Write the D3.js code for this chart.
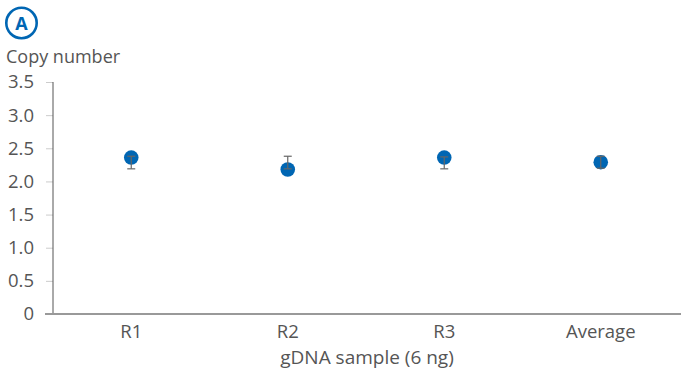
<!DOCTYPE html>
<html>
<head>
<meta charset="utf-8">
<script src="https://cdn.jsdelivr.net/npm/d3@7"></script>
<style>
  body { margin: 0; background: #fff; }
  text { font-family: "Open Sans", "Lato", sans-serif; fill: #555; }
</style>
</head>
<body>
<div id="chart"></div>
<script>
// data
var samples = ["R1", "R2", "R3", "Average"];
var copyNumber = [2.36, 2.18, 2.36, 2.29];
var errLow = [2.19, 2.19, 2.19, 2.20];
var errHigh = [2.38, 2.38, 2.37, 2.38];
var yTicks = [0, 0.5, 1.0, 1.5, 2.0, 2.5, 3.0, 3.5];

var W = 686, H = 375;
var margin = {top: 82, right: 5, bottom: 61, left: 53};
var width = W - margin.left - margin.right,
    height = H - margin.top - margin.bottom;

var svg = d3.select("#chart").append("svg")
    .attr("width", W)
    .attr("height", H);

var g = svg.append("g")
    .attr("transform", "translate(" + margin.left + "," + margin.top + ")");

// Scales
var x = d3.scaleBand().domain(samples).range([0, width - 2]);
var y = d3.scaleLinear().domain([0, 3.5]).range([height, 0]);

// Y axis
var yAxis = d3.axisLeft(y)
    .tickValues(yTicks)
    .tickSize(7)
    .tickPadding(12)
    .tickFormat(function(d) { return d === 0 ? "0" : d3.format(".1f")(d); });

var ya = g.append("g").attr("class", "y-axis").call(yAxis);
ya.select(".domain").remove();
ya.selectAll(".tick line").attr("stroke", "#ccc");
ya.selectAll(".tick text").style("font-size", "18.5px").attr("fill", "#555");

g.append("line")
    .attr("x1", 0).attr("x2", 0)
    .attr("y1", y(3.5)).attr("y2", y(0))
    .attr("stroke", "#555").attr("stroke-width", 1);

// X axis
g.append("line")
    .attr("x1", -8).attr("x2", width)
    .attr("y1", y(0)).attr("y2", y(0))
    .attr("stroke", "#999").attr("stroke-width", 2);

var xAxis = d3.axisBottom(x).tickSize(0).tickPadding(11);
var xa = g.append("g").attr("transform", "translate(0," + height + ")").call(xAxis);
xa.select(".domain").remove();
xa.selectAll(".tick text").style("font-size", "18.5px").attr("fill", "#555");

// Axis titles
svg.append("text")
    .attr("x", 6).attr("y", 63)
    .style("font-size", "18px")
    .text("Copy number");

svg.append("text")
    .attr("x", margin.left + width / 2).attr("y", 364)
    .attr("text-anchor", "middle")
    .style("font-size", "19px")
    .text("gDNA sample (6 ng)");

// Panel badge
svg.append("circle")
    .attr("cx", 21.5).attr("cy", 23).attr("r", 15.2)
    .attr("fill", "none").attr("stroke", "#0066b3").attr("stroke-width", 2.6);
svg.append("text")
    .attr("x", 21.5).attr("y", 29.5)
    .attr("text-anchor", "middle")
    .style("font-size", "18px").style("font-weight", "bold")
    .style("fill", "#0066b3")
    .text("A");

// Points
var data = samples.map(function(s, i) {
  return {s: s, v: copyNumber[i], lo: errLow[i], hi: errHigh[i]};
});

var cx = function(d) { return x(d.s) + x.bandwidth() / 2; };

g.selectAll(".dot").data(data).enter().append("circle")
    .attr("class", "dot")
    .attr("cx", cx)
    .attr("cy", function(d) { return y(d.v); })
    .attr("r", 7.3)
    .attr("fill", "#0066b3");

// Error bars (drawn over the dots)
var eb = g.selectAll(".err").data(data).enter().append("g")
    .attr("stroke", "#666").attr("stroke-width", 1.2);
eb.append("line")
    .attr("x1", cx).attr("x2", cx)
    .attr("y1", function(d) { return y(d.hi); })
    .attr("y2", function(d) { return y(d.lo); });
eb.append("line")
    .attr("x1", function(d) { return cx(d) - 4; })
    .attr("x2", function(d) { return cx(d) + 4; })
    .attr("y1", function(d) { return y(d.hi); })
    .attr("y2", function(d) { return y(d.hi); });
eb.append("line")
    .attr("x1", function(d) { return cx(d) - 4; })
    .attr("x2", function(d) { return cx(d) + 4; })
    .attr("y1", function(d) { return y(d.lo); })
    .attr("y2", function(d) { return y(d.lo); });
</script>
</body>
</html>
